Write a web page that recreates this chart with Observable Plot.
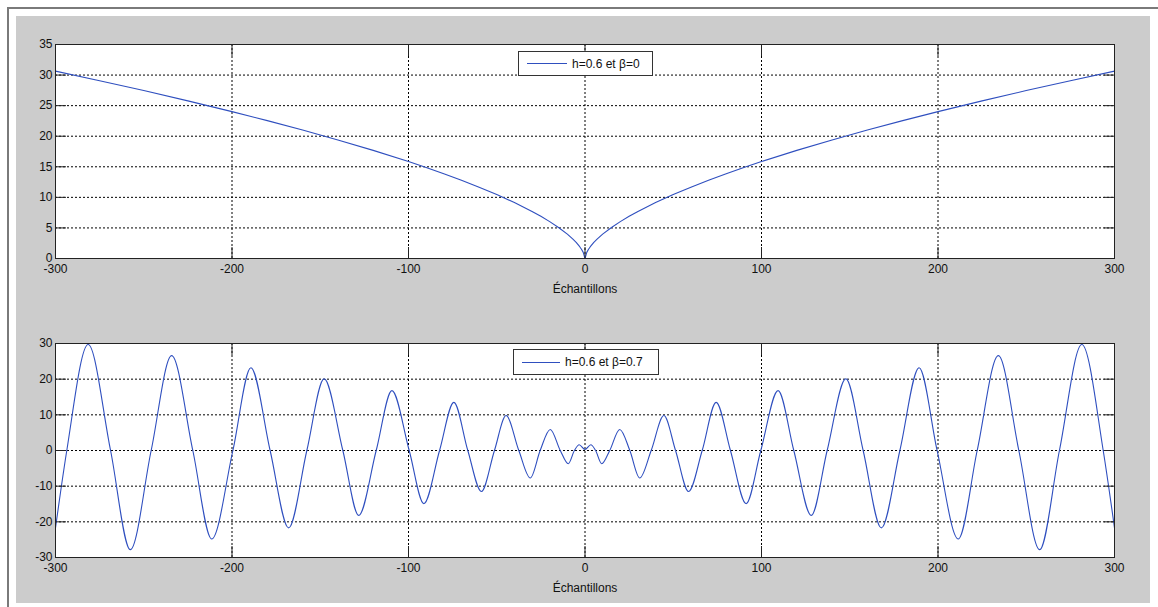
<!DOCTYPE html>
<html>
<head>
<meta charset="utf-8">
<script src="https://cdn.jsdelivr.net/npm/d3@7"></script>
<script src="https://cdn.jsdelivr.net/npm/@observablehq/plot@0.6"></script>
<style>
  body { margin: 0; background: #fff; font-family: "Liberation Sans", Arial, sans-serif; }
  #outer { position: absolute; left: 7px; top: 7px; width: 1151px; height: 600px; border-left: 2px solid #7a7a7a; border-top: 2px solid #7a7a7a; }
  #panel { position: absolute; left: 16px; top: 16px; width: 1134px; height: 587px; background: #cccccc; }
  .plot { position: absolute; left: 0; }
  .legend { position: absolute; background: #fff; border: 1px solid #333; box-sizing: border-box;
            display: flex; align-items: center; font: 12px "Liberation Sans", Arial, sans-serif; color: #111; }
  .legend .sw { display: inline-block; height: 0; border-top: 1px solid #2f4fbf; margin-right: 5px; }
</style>
</head>
<body>
<div id="outer"></div>
<div id="panel">
  <div id="p1" class="plot" style="top:0"></div>
  <div id="p2" class="plot" style="top:300px"></div>
</div>
<script>
// ---- data ----
const xTicks = [-300, -200, -100, 0, 100, 200, 300];
const yTicksTop = [0, 5, 10, 15, 20, 25, 30, 35];
const yTicksBottom = [-30, -20, -10, 0, 10, 20, 30];
const xLabel = "Échantillons";
const legendTop = "h=0.6 et β=0";
const legendBottom = "h=0.6 et β=0.7";

// top curve (h=0.6, β=0)
const nTop = [-300,-275,-250,-225,-200,-180,-160,-140,-120,-100,-90,-80,-70,-60,-50,-40,-30,-25,-20,-15,-10,-7,-5,-3,-2,-1,
  0,1,2,3,5,7,10,15,20,25,30,40,50,60,70,80,90,100,120,140,160,180,200,225,250,275,300];
const vTop = [30.64,29.08,27.47,25.78,24.02,22.55,21.01,19.39,17.68,15.85,14.88,13.86,12.80,11.66,10.46,9.15,7.70,6.90,6.03,5.08,3.98,3.21,2.63,1.93,1.52,1.0,
  0,1.0,1.52,1.93,2.63,3.21,3.98,5.08,6.03,6.90,7.70,9.15,10.46,11.66,12.80,13.86,14.88,15.85,17.68,19.39,21.01,22.55,24.02,25.78,27.47,29.08,30.64];

// bottom curve (h=0.6, β=0.7): extrema and zero crossings
const nBot = [-300,-293.6,-281.5,-268.8,-257.6,-245.8,-234.2,-222.2,-211.5,-199.5,-189.3,-178.4,-167.9,-157.6,-147.8,-137.2,-128.2,-118.3,-109.4,-99.6,-91.3,-82.4,-74.3,-66.4,-58.7,-51.3,-44.7,-37.5,-31,-25.4,-19.7,-14,-9.5,-6,-3.3,
  0,3.3,6,9.5,14,19.7,25.4,31,37.5,44.7,51.3,58.7,66.4,74.3,82.4,91.3,99.6,109.4,118.3,128.2,137.2,147.8,157.6,167.9,178.4,189.3,199.5,211.5,222.2,234.2,245.8,257.6,268.8,281.5,293.6,300];
const vBot = [-21.7,0,29.7,0,-27.8,0,26.6,0,-24.8,0,23.2,0,-21.7,0,20.1,0,-18.2,0,16.8,0,-14.9,0,13.5,0,-11.5,0,9.8,0,-7.7,0,5.9,0,-3.7,0,1.6,
  0.3,1.6,0,-3.7,0,5.9,0,-7.7,0,9.8,0,-11.5,0,13.5,0,-14.9,0,16.8,0,-18.2,0,20.1,0,-21.7,0,23.2,0,-24.8,0,26.6,0,-27.8,0,29.7,0,-21.7];

const topData = nTop.map((n, i) => ({n, v: vTop[i]}));
const botData = nBot.map((n, i) => ({n, v: vBot[i]}));

const LINE = "#2f4fbf";
const FONT = "'Liberation Sans', Arial, sans-serif";
const fmt = (d) => String(d); // plain hyphen-minus, as in the reference

function makePlot(data, yDomain, yTicks, curve, opts) {
  const grid = {stroke: "#000", strokeOpacity: 1, strokeDasharray: "2,2", strokeWidth: 1};
  return Plot.plot({
    width: 1134, height: opts.height,
    marginTop: opts.mt, marginBottom: opts.mb, marginLeft: 39, marginRight: 36,
    style: {background: "transparent", fontFamily: FONT, fontSize: "12px", color: "#111", overflow: "visible"},
    x: {domain: [-300, 300]},
    y: {domain: yDomain},
    marks: [
      Plot.frame({fill: "white"}),
      Plot.gridX(xTicks, grid),
      Plot.gridY(yTicks, grid),
      Plot.line(data, {x: "n", y: "v", stroke: LINE, strokeWidth: 1.1, curve}),
      Plot.axisX(xTicks, {anchor: "bottom", tickSize: -11, tickPadding: 17, stroke: "#222", tickFormat: fmt,
        label: xLabel, labelAnchor: "center", labelArrow: "none", labelOffset: 34, fontSize: 12}),
      Plot.axisX(xTicks, {anchor: "top", tickSize: -11, tickFormat: () => "", stroke: "#222", label: null}),
      Plot.axisY(yTicks, {anchor: "left", tickSize: -11, tickPadding: 14, stroke: "#222", tickFormat: fmt, label: null, fontSize: 12}),
      Plot.axisY(yTicks, {anchor: "right", tickSize: -11, tickFormat: () => "", stroke: "#222", label: null}),
      Plot.frame({stroke: "#222", strokeWidth: 1})
    ]
  });
}

document.getElementById("p1").append(makePlot(topData, [0, 35], yTicksTop, "linear", {height: 300, mt: 28, mb: 58}));
document.getElementById("p2").append(makePlot(botData, [-30, 30], yTicksBottom, "monotone-x", {height: 287, mt: 27, mb: 46}));

function addLegend(text, left, top, width, height, sw) {
  const d = document.createElement("div");
  d.className = "legend";
  d.style.left = left + "px"; d.style.top = top + "px";
  d.style.width = width + "px"; d.style.height = height + "px";
  d.style.paddingLeft = "8px";
  const s = document.createElement("span");
  s.className = "sw"; s.style.width = sw + "px";
  const t = document.createElement("span");
  t.textContent = text;
  d.append(s, t);
  document.getElementById("panel").append(d);
}
addLegend(legendTop, 502, 35, 135, 25, 40);
addLegend(legendBottom, 497, 333, 146, 26, 38);
</script>
</body>
</html>
